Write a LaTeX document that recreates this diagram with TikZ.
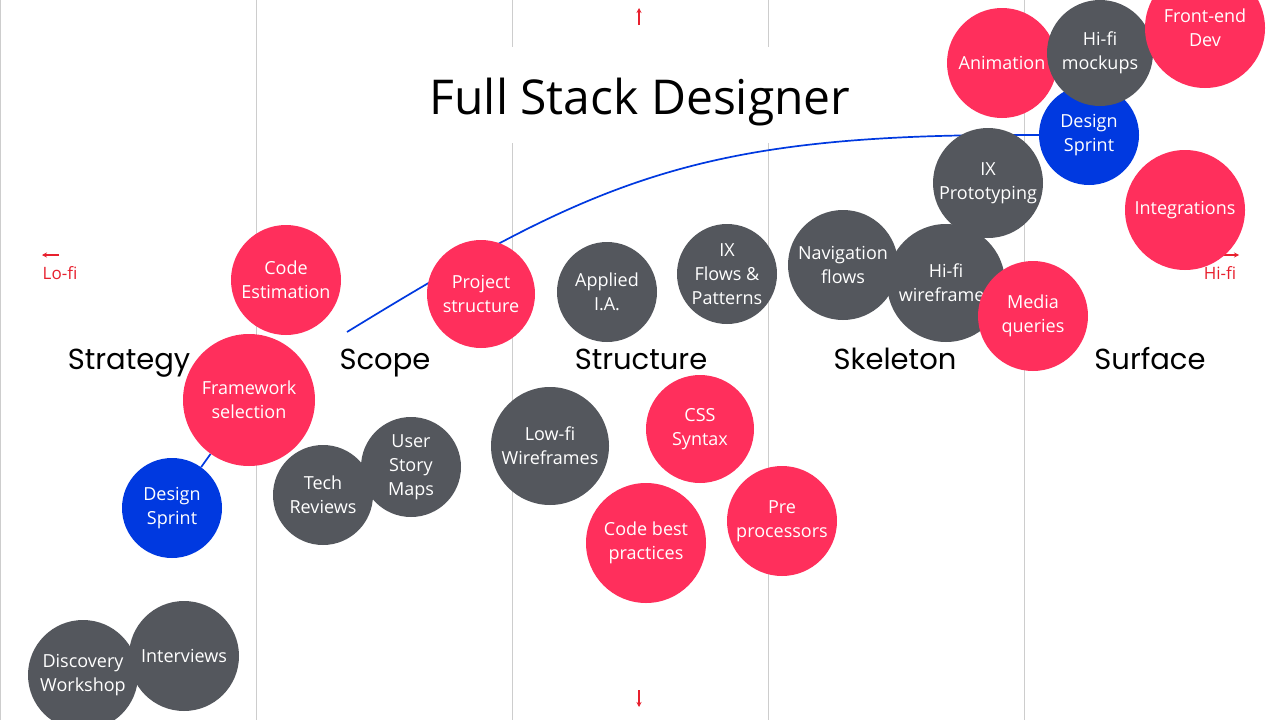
\documentclass[tikz,border=0pt]{standalone}
\usepackage{fontspec}
\setmainfont{Open Sans}
\newfontfamily\headfont{Poppins}
\usetikzlibrary{backgrounds,arrows.meta}

\definecolor{hotpink}{HTML}{FF2F5C}
\definecolor{slate}{HTML}{54575D}
\definecolor{sprintblue}{HTML}{0039E0}
\definecolor{railgrey}{HTML}{CDCDCD}
\definecolor{tagred}{HTML}{E8202E}

\tikzset{
  bubble/.style={circle, inner sep=0pt, align=center, text=white,
    font=\fontsize{18}{24}\selectfont},
  hot/.style={bubble, fill=hotpink},
  cool/.style={bubble, fill=slate},
  sprint/.style={bubble, fill=sprintblue},
  stage/.style={font=\headfont\fontsize{29}{34}\selectfont, anchor=base},
  rail/.style={draw=railgrey, line width=1pt},
  track/.style={draw=sprintblue, line width=1.7pt},
  tag/.style={text=tagred, font=\fontsize{17}{20}\selectfont},
  pointer/.style={draw=tagred, line width=1.5pt, -{Stealth[length=5pt,width=5pt]}},
}

\begin{document}
\begin{tikzpicture}[x=1pt, y=-1pt]
    \useasboundingbox (0,0) rectangle (1280,720);
    \clip (0,0) rectangle (1280,720);

    % Title and the five planes
    \node[anchor=base, font=\fontsize{48}{54}\selectfont] (title) at (640,114) {Full Stack Designer};
    \node[stage] (strategy) at (129,369) {Strategy};
    \node[stage] (scope) at (385,369) {Scope};
    \node[stage] (structure) at (641,369) {Structure};
    \node[stage] (skeleton) at (895,369) {Skeleton};
    \node[stage] (surface) at (1150,369) {Surface};

    % Fidelity markers
    \node[tag] (lofi) at (60,273) {Lo-fi};
    \node[tag] (hifi) at (1220,273) {Hi-fi};
    \coordinate (upTail) at (639,25);
    \coordinate (upTip) at (639,8);
    \coordinate (downTail) at (639,690);
    \coordinate (downTip) at (639,707);
    \coordinate (leftTail) at (59,255);
    \coordinate (leftTip) at (42,255);
    \coordinate (rightTail) at (1224,255);
    \coordinate (rightTip) at (1239,255);
    \draw[pointer] (upTail) -- (upTip);
    \draw[pointer] (downTail) -- (downTip);
    \draw[pointer] (leftTail) -- (leftTip);
    \draw[pointer] (rightTail) -- (rightTip);

    % Strategy
    \node[cool, minimum size=110] (discovery) at (83,675) {Discovery\\Workshop};
    \node[cool, minimum size=110] (interviews) at (184,656) {Interviews};
    \node[sprint, minimum size=100] (dsL) at (172,508) {Design\\Sprint};
    \node[hot, minimum size=110] (codeEst) at (286,280) {Code\\Estimation};
    \node[hot, minimum size=132] (fws) at (249,400) {Framework\\selection};

    % Scope
    \node[cool, minimum size=100] (techRev) at (323,495) {Tech\\Reviews};
    \node[cool, minimum size=100] (storyMaps) at (411,467) {User\\Story\\Maps};
    \node[hot, minimum size=108] (projStruct) at (481,294) {Project\\structure};

    % Structure
    \node[cool, minimum size=100] (appliedIA) at (607,292) {Applied\\I.A.};
    \node[cool, minimum size=100] (ixFlows) at (727,274) {IX\\Flows \&\\Patterns};
    \node[cool, minimum size=118] (lowfiWire) at (550,446) {Low-fi\\Wireframes};
    \node[hot, minimum size=108] (cssSyntax) at (700,429) {CSS\\Syntax};
    \node[hot, minimum size=120] (codeBest) at (646,543) {Code best\\practices};
    \node[hot, minimum size=110] (preProc) at (782,521) {Pre\\processors};

    % Skeleton
    \node[cool, minimum size=110] (navFlows) at (843,265) {Navigation\\flows};
    \node[cool, minimum size=110] (ixProto) at (988,183) {IX\\Prototyping};
    \node[cool, minimum size=118] (hifiWire) at (946,283) {Hi-fi\\wireframes};
    \node[hot, minimum size=110] (mediaQ) at (1033,316) {Media\\queries};

    % Surface
    \node[hot, minimum size=110] (animation) at (1002,63) {Animation};
    \node[sprint, minimum size=100] (dsR) at (1089,135) {Design\\Sprint};
    \node[cool, minimum size=106] (hifiMock) at (1100,53) {Hi-fi\\mockups};
    \node[hot, minimum size=120] (frontEnd) at (1205,28) {Front-end\\Dev};
    \node[hot, minimum size=120] (integr) at (1185,210) {Integrations};

    % Grid and sprint track behind the bubbles
    \begin{pgfonlayer}{background}
      \fill[white] (0,0) rectangle (1280,720);
      \draw[rail] (0.5,0) -- (0.5,720);
      \foreach \x in {256,1024}
        \draw[rail] (\x,0) -- (\x,720);
      \foreach \x in {512,768} {
        \draw[rail] (\x,0) -- (\x,47);
        \draw[rail] (\x,143) -- (\x,720);
      }
      \coordinate (arcStart) at (347,332);
      \draw[track] (dsL) -- (fws);
      \draw[track] (arcStart) .. controls (600,177) and (700,133) .. (dsR.west);
    \end{pgfonlayer}
\end{tikzpicture}
\end{document}
